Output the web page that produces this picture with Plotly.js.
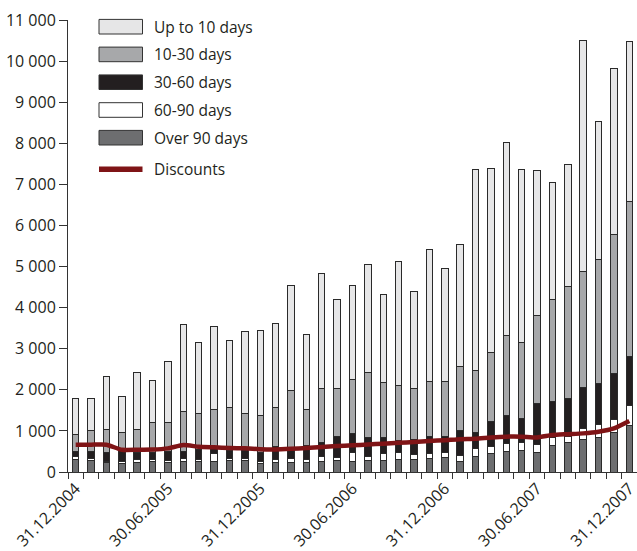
<!DOCTYPE html>
<html>
<head>
<meta charset="utf-8">
<script src="https://cdn.plot.ly/plotly-3.0.1.min.js"></script>
<style>html,body{margin:0;padding:0;background:#fff;}#chart{width:637px;height:551px;}</style>
</head>
<body>
<div id="chart"></div>
<script>
const categories = ["31.12.2004","31.01.2005","28.02.2005","31.03.2005","30.04.2005","31.05.2005","30.06.2005","31.07.2005","31.08.2005","30.09.2005","31.10.2005","30.11.2005","31.12.2005","31.01.2006","28.02.2006","31.03.2006","30.04.2006","31.05.2006","30.06.2006","31.07.2006","31.08.2006","30.09.2006","31.10.2006","30.11.2006","31.12.2006","31.01.2007","28.02.2007","31.03.2007","30.04.2007","31.05.2007","30.06.2007","31.07.2007","31.08.2007","30.09.2007","31.10.2007","30.11.2007","31.12.2007"];
const labeledTicks = ["31.12.2004","30.06.2005","31.12.2005","30.06.2006","31.12.2006","30.06.2007","31.12.2007"];

const over90  = [300,285,220,210,220,245,220,245,245,250,285,280,210,235,235,235,245,285,245,285,290,315,310,335,350,260,380,450,490,530,470,650,710,780,830,950,1130];
const d60_90  = [70,35,30,50,80,65,60,85,65,200,40,60,55,65,90,65,130,75,235,95,150,155,105,105,120,150,180,180,200,180,190,180,150,270,320,320,480];
const d30_60  = [140,170,220,270,170,160,220,180,240,140,205,190,210,310,245,335,345,500,460,465,395,295,380,430,390,590,410,600,690,600,1010,880,930,1000,1000,1120,1200];
const d10_30  = [410,530,570,440,570,730,700,955,870,935,1040,895,895,960,1410,890,1320,1180,1300,1585,1335,1335,1245,1340,1350,1570,1510,1670,1930,1850,2150,2480,2730,2820,3010,3380,3770];
const upTo10  = [870,770,1280,860,1380,1020,1480,2115,1730,2015,1630,1985,2070,2050,2560,1825,2780,2170,2310,2610,2140,3030,2360,3210,2750,2970,4890,4480,4720,4210,3510,2850,2970,5640,3380,4040,3900];
const discounts = [665,665,665,540,540,545,575,655,615,600,585,575,555,550,565,585,610,630,650,670,690,710,730,755,775,800,810,840,860,860,840,900,920,940,980,1060,1240];

const seriesNames = ["Up to 10 days","10-30 days","30-60 days","60-90 days","Over 90 days","Discounts"];
const seriesColors = ["#e6e6e7","#a7a8aa","#231f20","#ffffff","#6d6e70","#7f1416"];

const FONT = "'Open Sans', 'Noto Sans', sans-serif";
const TICKFS = 16, LEGFS = 15.5;
const outline = {color:"#2a2a2a", width:1};
function bar(y, idx){
  return {type:"bar", x:categories, y:y, name:seriesNames[idx], width:0.42,
    marker:{color:seriesColors[idx], line:outline}, showlegend:false, hoverinfo:"skip"};
}
const traces = [
  bar(over90,4), bar(d60_90,3), bar(d30_60,2), bar(d10_30,1), bar(upTo10,0),
  {type:"scatter", mode:"lines", x:categories, y:discounts, name:seriesNames[5],
   line:{color:seriesColors[5], width:4.5, shape:"spline", smoothing:0.5}, showlegend:false, hoverinfo:"skip"}
];

// custom legend (pixel positions converted to paper coords)
const L = 68, R = 637, T = 20, B = 472;
const px = v => (v - L) / (R - L);
const py = v => (B - v) / (B - T);
const shapes = [], annotations = [];
const rowCenters = [26.7, 54.4, 82.2, 110, 137.7, 169.3];
for (let i = 0; i < 5; i++) {
  const c = rowCenters[i];
  shapes.push({type:"rect", xref:"paper", yref:"paper", x0:px(99), x1:px(142.5), y0:py(c+7.3), y1:py(c-7.3),
    fillcolor:seriesColors[i], line:{color:"#333", width:1}});
}
shapes.push({type:"line", xref:"paper", yref:"paper", x0:px(99), x1:px(142.5), y0:py(rowCenters[5]), y1:py(rowCenters[5]),
  line:{color:seriesColors[5], width:5.5}});
for (let i = 0; i < 6; i++) {
  annotations.push({xref:"paper", yref:"paper", x:px(152), y:py(rowCenters[i]), xanchor:"left", yanchor:"middle",
    text:seriesNames[i], showarrow:false, font:{family:FONT, size:LEGFS, color:"#231f20"}});
}

const layout = {
  width:637, height:551,
  margin:{l:L, r:637-R, t:T, b:551-B, pad:0},
  paper_bgcolor:"#fff", plot_bgcolor:"#fff",
  barmode:"stack",
  separators:". ",
  font:{family:FONT, size:TICKFS, color:"#231f20"},
  xaxis:{type:"category", range:[-0.5, 36.5], tickmode:"array", tickvals:categories,
    ticktext:categories.map(c => labeledTicks.includes(c) ? c : ""),
    tickson:"boundaries", ticks:"outside", ticklen:6, tickcolor:"#333", tickwidth:1,
    tickangle:-45, showline:true, linecolor:"#333", linewidth:1, showgrid:false, zeroline:false,
    automargin:false, tickfont:{family:FONT, size:TICKFS, color:"#231f20"}},
  yaxis:{range:[0, 11000], dtick:1000, tick0:0, tickformat:",d", ticks:"outside", ticklen:8,
    tickcolor:"#333", tickwidth:1, showline:true, linecolor:"#333", linewidth:1, showgrid:false,
    zeroline:false, automargin:false, tickfont:{family:FONT, size:TICKFS, color:"#231f20"}},
  shapes:shapes, annotations:annotations, showlegend:false
};
Plotly.newPlot("chart", traces, layout, {staticPlot:true, displayModeBar:false});
</script>
</body>
</html>
